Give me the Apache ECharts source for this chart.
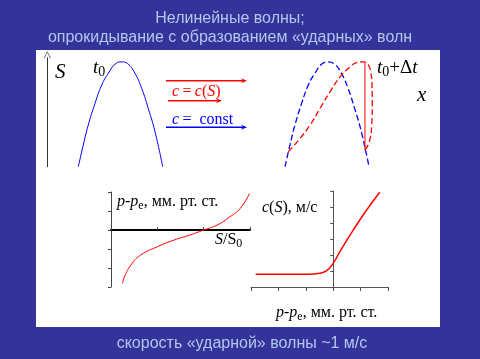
<!DOCTYPE html>
<html><head><meta charset="utf-8">
<script src="https://cdn.jsdelivr.net/npm/echarts@6/dist/echarts.min.js"></script>
<style>html,body{margin:0;padding:0;background:#333399;}#c{width:480px;height:359px;}</style>
</head><body><div id="c"></div>
<script>
// Initial wave profile S(x) at t0 (normalized x, S/Smax)
const waveX = [0, 0.059, 0.118, 0.198, 0.277, 0.355, 0.447, 0.514, 0.581, 0.672, 0.751, 0.829, 0.909, 1];
const waveS = [0, 0.207, 0.397, 0.604, 0.778, 0.890, 0.985, 1.0, 0.985, 0.890, 0.747, 0.556, 0.333, 0];
// Overturned profile at t0+Δt
const steepX = [0.039, 0.179, 0.298, 0.417, 0.536, 0.655, 0.774, 0.854, 0.932, 0.992, 1.020, 1.036, 1.039, 1.032, 1.004, 0.952];
const steepS = [0.143, 0.270, 0.397, 0.556, 0.714, 0.857, 0.952, 0.994, 1.0, 0.969, 0.905, 0.778, 0.588, 0.397, 0.238, 0.159];
// Shock front
const shockX = [0.952, 0.952];
const shockS = [0.159, 0.99];
// p - pe vs S/S0
const ratioS = [0.25, 0.29, 0.43, 0.64, 1.0, 1.36, 1.71, 2.0, 2.29, 2.57, 2.79, 2.99];
const pressDiff = [-2.81, -2.46, -1.84, -1.32, -0.88, -0.53, -0.26, 0, 0.26, 0.70, 1.14, 1.93];
// c(S) vs p - pe
const pressX = [-2.83, -0.91, -0.49, -0.24, 0, 0.24, 0.73, 1.22, 1.70];
const speedC = [0.79, 0.79, 0.86, 1.02, 1.48, 2.2, 3.56, 4.81, 5.92];

const titleLines = ['Нелинейные волны;', 'опрокидывание с образованием «ударных» волн'];
const footer = 'скорость «ударной» волны ~1 м/с';

const zip = (a, b) => a.map((v, i) => [v, b[i]]);
const SERIF = 'Liberation Serif, Times New Roman, serif';
const SANS = 'Liberation Sans, Arial, sans-serif';
const TXT = '#b3c6ef';

function arrow(x1, x2, y, color, hw) {
  return {
    type: 'group', z: 20, children: [
      { type: 'line', shape: { x1: x1, y1: y, x2: x2 - 2, y2: y }, style: { stroke: color, lineWidth: 1.5 } },
      { type: 'polygon', shape: { points: [[x2, y], [x2 - 6, y - hw], [x2 - 4, y], [x2 - 6, y + hw]] }, style: { fill: color } }
    ]
  };
}
function txt(x, y, text, rich, base) {
  return {
    type: 'text', x: x, y: y, z: 20,
    style: Object.assign({ text: text, rich: rich, verticalAlign: 'middle', align: 'left' }, base)
  };
}
const richBase = (color, size) => ({
  i: { fontFamily: SERIF, fontStyle: 'italic', fontSize: size, fill: color, lineHeight: size + 4 },
  r: { fontFamily: SERIF, fontSize: size, fill: color, lineHeight: size + 4 },
  sub: { fontFamily: SERIF, fontSize: Math.round(size * 0.72), fill: color, lineHeight: Math.round(size * 0.72), verticalAlign: 'bottom' }
});

const chart = echarts.init(document.getElementById('c'), null, { renderer: 'canvas' });
chart.setOption({
  backgroundColor: '#333399',
  animation: false,
  grid: [
    { left: 78.3, width: 84.4, top: 57.7, height: 109 },
    { left: 285, width: 92.4, top: 57.7, height: 109 },
    { left: 111, width: 139, top: 192, height: 95 },
    { left: 251, width: 137, top: 191, height: 96 }
  ],
  xAxis: [
    { gridIndex: 0, type: 'value', min: 0, max: 1, show: false },
    { gridIndex: 1, type: 'value', min: 0, max: 1.1, show: false },
    { gridIndex: 2, type: 'value', min: 0, max: 3, interval: 1,
      axisLine: { lineStyle: { color: '#000', width: 2 } },
      axisTick: { inside: true, length: 3, lineStyle: { color: '#444', width: 1 } },
      axisLabel: { show: false }, splitLine: { show: false } },
    { gridIndex: 3, type: 'value', min: -3, max: 2, interval: 1,
      axisLine: { onZero: false, lineStyle: { color: '#555', width: 1 } },
      axisTick: { length: 4, lineStyle: { color: '#555' } },
      axisLabel: { show: false }, splitLine: { show: false } }
  ],
  yAxis: [
    { gridIndex: 0, type: 'value', min: 0, max: 1.04, offset: 31,
      axisLine: { show: true, onZero: false, symbol: ['none', 'path://M0,10 L5,0 L10,10 L9,10 L5,2 L1,10 Z'], symbolSize: [7, 8], symbolOffset: [0, 3], lineStyle: { color: '#333', width: 1 } },
      axisTick: { show: false }, axisLabel: { show: false }, splitLine: { show: false } },
    { gridIndex: 1, type: 'value', min: 0, max: 1.04, show: false },
    { gridIndex: 2, type: 'value', min: -3, max: 2, interval: 1,
      axisLine: { show: true, onZero: false, lineStyle: { color: '#444', width: 1 } },
      axisTick: { show: true, length: 3, lineStyle: { color: '#444' } },
      axisLabel: { show: false }, splitLine: { show: false } },
    { gridIndex: 3, type: 'value', min: 0, max: 6, interval: 1,
      axisLine: { show: true, onZero: true, lineStyle: { color: '#555', width: 1 } },
      axisTick: { show: true, length: 3, lineStyle: { color: '#555' } },
      axisLabel: { show: false }, splitLine: { show: false } }
  ],
  series: [
    { type: 'line', xAxisIndex: 0, yAxisIndex: 0, data: zip(waveX, waveS), smooth: true, symbol: 'none',
      lineStyle: { color: '#0000ff', width: 1 } },
    { type: 'line', xAxisIndex: 1, yAxisIndex: 1, data: zip(waveX, waveS), smooth: true, symbol: 'none',
      lineStyle: { color: '#0000ff', width: 1.3, type: [6, 3] } },
    { type: 'line', xAxisIndex: 1, yAxisIndex: 1, data: zip(steepX, steepS), smooth: true, symbol: 'none', clip: false,
      lineStyle: { color: '#ff0000', width: 1.3, type: [6, 3] } },
    { type: 'line', xAxisIndex: 1, yAxisIndex: 1, data: zip(shockX, shockS), symbol: 'none',
      lineStyle: { color: '#ff0000', width: 1 } },
    { type: 'line', xAxisIndex: 2, yAxisIndex: 2, data: zip(ratioS, pressDiff), smooth: true, symbol: 'none',
      lineStyle: { color: '#ff0000', width: 1 } },
    { type: 'line', xAxisIndex: 3, yAxisIndex: 3, data: zip(pressX, speedC), smooth: true, symbol: 'none',
      lineStyle: { color: '#ff0000', width: 1.5 } }
  ],
  graphic: [
    { type: 'rect', z: -10, shape: { x: 36, y: 50, width: 404, height: 277 }, style: { fill: '#ffffff' } },
    { type: 'text', x: 230, y: 19, style: { text: titleLines[0], font: '16px ' + SANS, fill: TXT, align: 'center', verticalAlign: 'middle' } },
    { type: 'text', x: 230, y: 38, style: { text: titleLines[1], font: '16px ' + SANS, fill: TXT, align: 'center', verticalAlign: 'middle' } },
    { type: 'text', x: 242, y: 344, style: { text: footer, font: '16px ' + SANS, fill: TXT, align: 'center', verticalAlign: 'middle' } },
    arrow(166, 247, 80.7, '#ff0000', 2.5),
    arrow(168, 222, 100.7, '#ff0000', 2.5),
    arrow(166, 247, 127.3, '#0000ff', 2.5),
    txt(55, 72, '{i|S}', richBase('#000', 21)),
    txt(93, 68, '{i|t}{sub|0}', richBase('#000', 19)),
    txt(172, 92, '{i|c} {r|=} {i|c}{r|(}{i|S}{r|)}', richBase('#ff0000', 16)),
    txt(172, 120, '{i|c} {r|=  const}', richBase('#0000ff', 16)),
    txt(377, 68, '{i|t}{sub|0}{r|+Δ}{i|t}', richBase('#000', 19)),
    txt(417, 95, '{i|x}', richBase('#000', 21)),
    txt(117, 202, '{i|p}{r|-}{i|p}{sub|e}{r|, мм. рт. ст.}', richBase('#000', 16)),
    txt(215, 240, '{i|S}{r|/S}{sub|0}', richBase('#000', 16)),
    txt(262, 208, '{i|c}{r|(}{i|S}{r|), м/с}', richBase('#000', 16)),
    txt(276, 313, '{i|p}{r|-}{i|p}{sub|e}{r|, мм. рт. ст.}', richBase('#000', 16))
  ]
});
</script></body></html>
